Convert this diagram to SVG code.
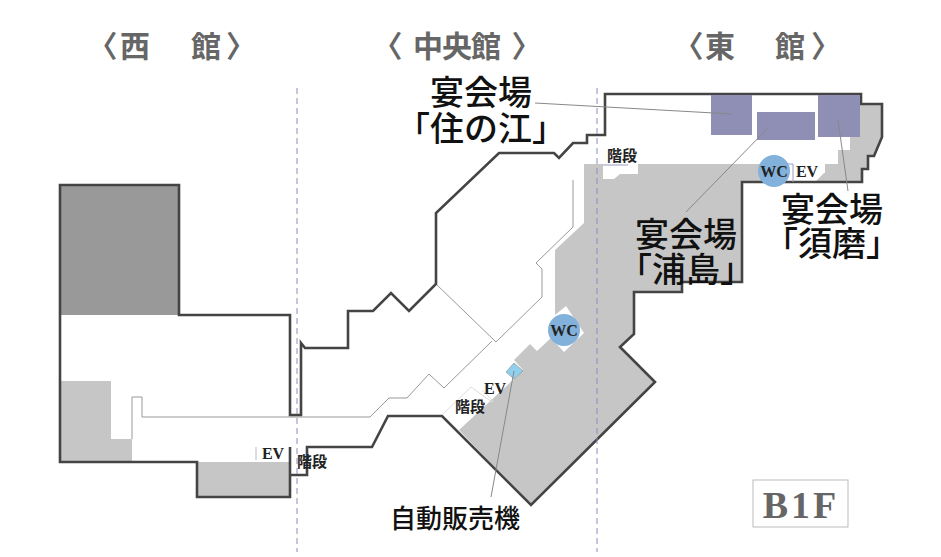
<svg xmlns="http://www.w3.org/2000/svg" width="941" height="557" viewBox="0 0 941 557">
<style>
.cjk{font-family:"Liberation Serif","Noto Sans CJK JP",serif}
.h{font-size:30px;font-weight:700;fill:#666}
.l{font-size:34px;font-weight:500;fill:#111;text-anchor:middle}
.s{font-size:15px;font-weight:700;fill:#222;text-anchor:middle}
.e{font-size:16px;font-weight:700;fill:#222;text-anchor:middle}
.thin{fill:none;stroke:#999;stroke-width:1}
.pale{fill:none;stroke:#ddd;stroke-width:1}
.lead{fill:none;stroke:#888;stroke-width:1}
.wall{fill:none;stroke:#444;stroke-width:2.6;stroke-linejoin:miter}
.hall{fill:#8f8fb5}
.lg{fill:#c6c6c6}
.wc{fill:#82b1db}
.div{stroke:#8c8cc0;stroke-width:1;stroke-dasharray:6 4;fill:none}
</style>
<rect width="941" height="557" fill="#fff"/>
<g id="floor">
<rect x="60" y="185" width="119" height="130" fill="#999"/>
<polygon class="lg" points="60,381 111,381 111,439 132,439 132,462 60,462"/>
<rect class="lg" x="197" y="462" width="93" height="35"/>
<polygon class="lg" points="584,164 603,164 603,179 614,179 620,174 638,174 638,164 772,164 772,182 815,182 824,173 825,173 825,164 838,164 838,150 850,150 850,137 860,137 860,104 882,104 882,137 874,156 868,156 868,169 862,169 862,182 742,182 742,282 682,282 682,292 634,292 634,334 620,347 655,382 531,505 459,430 514,379 523,370 514,360 530,344 537,351 551,338 564,352 584,333 566,306 555,315 555,250 584,223"/>
</g>
<g id="connectors">
<path class="thin" d="M132,439V397H142V417H370L389,398H407L429,374L444,388L492,341"/>
<path class="thin" d="M436,284L496,342L542,297V269L536,263L573,227V180"/>
<path class="pale" d="M443,414L471,387L492,402M482,390L494,402"/>
<path class="wall" d="M290,447V497H197V462H60V185H179V315H290V415H301V343L305,348H348V311H373L391,293L409,311L436,284V213L499,153H554L559,158L573,143H587V135H605V94H861V104H882V137L874,156H868V169H862V182H742V282H682V292H634V334L620,347L655,382L531,505L442,416H388L372,447H307V475H290"/>
<path d="M256,447V460" stroke="#bbb" stroke-width="1" fill="none"/>
<path d="M603,165H628M778,164H793V182" stroke="#9a9ac8" stroke-width="1" fill="none"/>
</g>
<g id="hall-suminoe"><rect class="hall" x="711" y="95" width="41" height="40"/></g>
<g id="hall-urashima"><rect class="hall" x="757" y="112" width="58" height="28"/></g>
<g id="hall-suma"><rect class="hall" x="818" y="95" width="42" height="42"/></g>
<g id="vending"><polygon points="514,363 523,371 514,379 506,372" fill="#8fd0ee" stroke="#999" stroke-width="0.8"/></g>
<g id="leaders">
<path class="lead" d="M535,103L732,114M767,129L686,212M838,120L848,191M514,371L491,497"/>
<path class="div" d="M297,88V552M597,88V552"/>
</g>
<g id="wc-center"><circle class="wc" cx="564" cy="330" r="16"/><text class="cjk e" x="564" y="336">WC</text></g>
<g id="wc-east"><circle class="wc" cx="774" cy="171" r="16"/><text class="cjk e" x="774" y="177">WC</text></g>
<g id="labels">
<text class="cjk h" x="87.5 120 191 226" y="57">〈西館〉</text>
<text class="cjk h" x="372.5 413 442 471 511.5" y="57">〈中央館〉</text>
<text class="cjk h" x="673.5 705 775 811" y="57">〈東館〉</text>
<text class="cjk l" x="481" y="105">宴会場</text>
<text class="cjk l" x="481" y="141">「住の江」</text>
<text class="cjk l" x="686" y="247">宴会場</text>
<text class="cjk l" x="686" y="282">「浦島」</text>
<text class="cjk l" x="832" y="222">宴会場</text>
<text class="cjk l" x="832" y="256">「須磨」</text>
<text class="cjk s" x="622" y="161">階段</text>
<text class="cjk e" x="807" y="177">EV</text>
<text class="cjk e" x="273" y="459">EV</text>
<text class="cjk s" x="312" y="467">階段</text>
<text class="cjk s" x="470" y="412">階段</text>
<text class="cjk e" x="495" y="394">EV</text>
<text class="cjk" x="455" y="528" font-size="26" font-weight="500" fill="#111" text-anchor="middle">自動販売機</text>
</g>
<g id="floor-tag">
<rect x="753" y="480" width="95" height="47" fill="#fff" stroke="#bbb"/>
<text class="cjk" x="801" y="518" font-size="38" font-weight="700" fill="#666" text-anchor="middle" letter-spacing="3">B1F</text>
</g>
</svg>
